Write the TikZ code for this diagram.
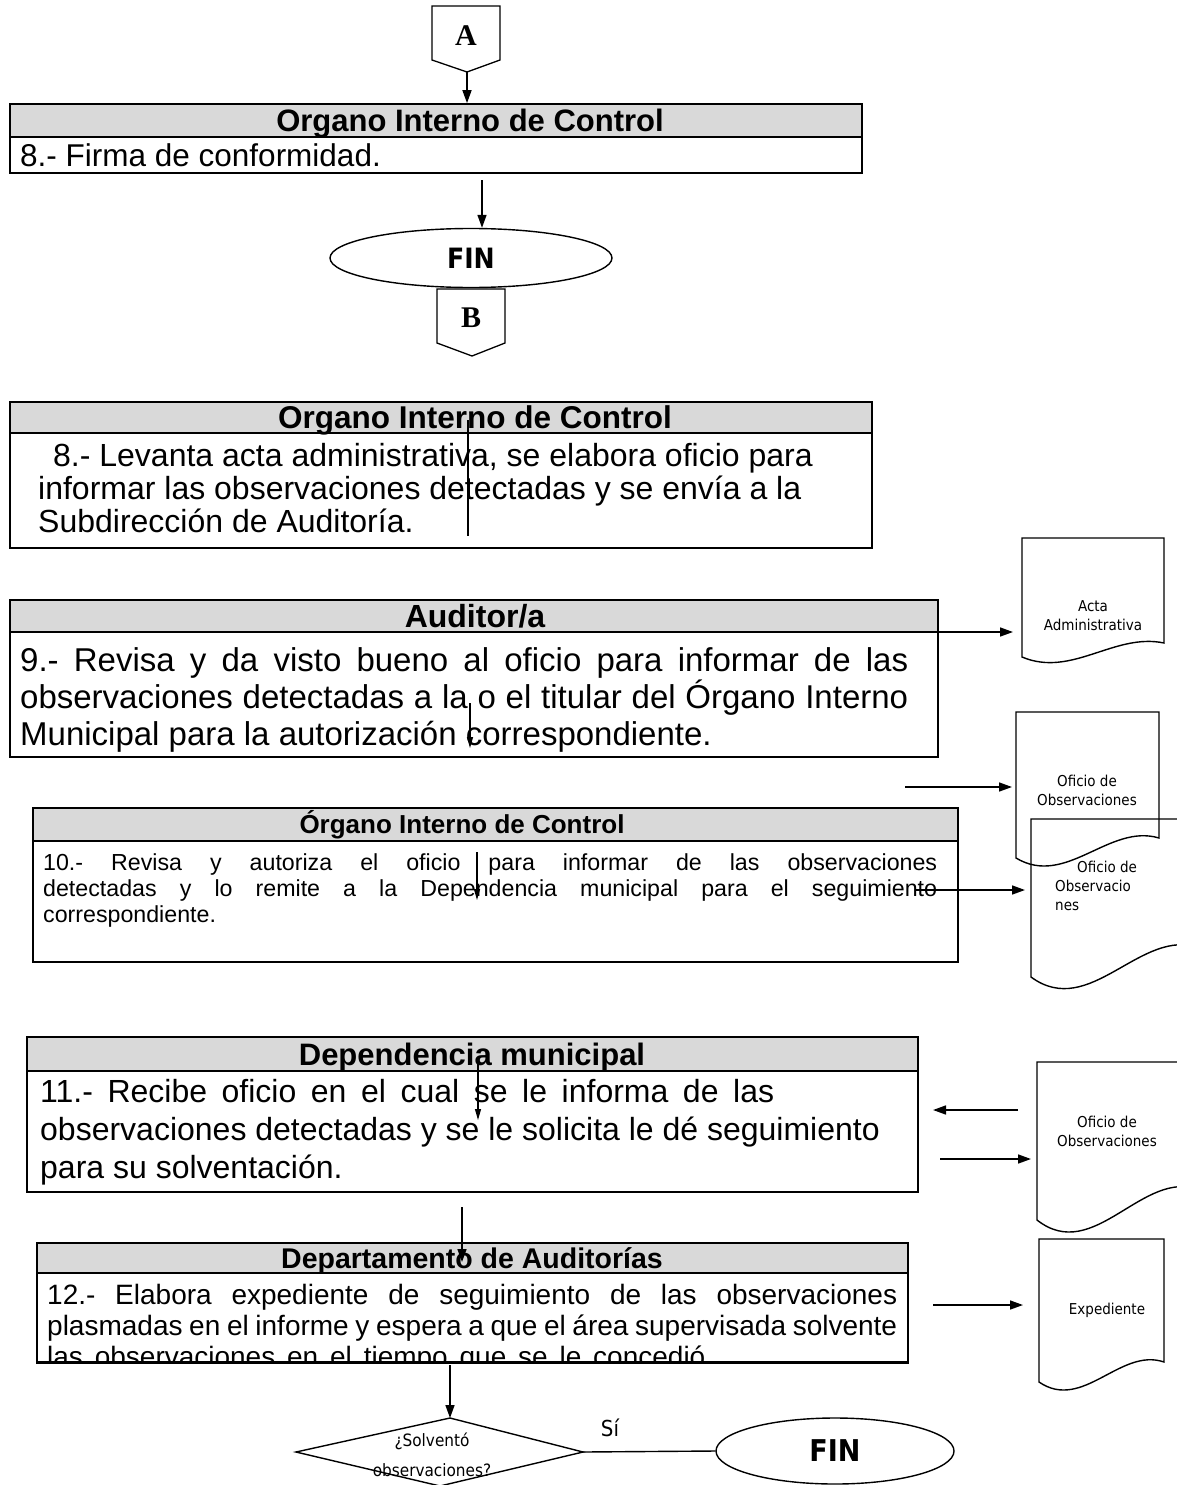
\documentclass[tikz,border=0pt]{standalone}
\usepackage{fontspec}
\setmainfont{Liberation Sans}
\newfontfamily\docfont{DejaVu Sans Condensed}
\newfontfamily\serfont{Liberation Serif}
\usetikzlibrary{arrows.meta,shapes.geometric,fit}
\definecolor{hdrgray}{RGB}{217,217,217}
\newcommand\fsz[2]{\fontsize{#1}{#2}\selectfont}
\newcommand\tstrut{\rule{0pt}{1em}}
\newcommand\jline[2]{\makebox[#1][s]{#2}}
\newcommand\docshape[6]{% name L T R Bl Br
  \pgfmathsetmacro\dsW{#4-#2}%
  \pgfmathsetmacro\dsH{#5-#6}%
  \pgfmathsetmacro\dsXa{#2+0.65*\dsW}%
  \pgfmathsetmacro\dsYa{#6-0.75*\dsH}%
  \pgfmathsetmacro\dsXb{#2+0.35*\dsW}%
  \pgfmathsetmacro\dsYb{#5+1.5*\dsH}%
  \draw[docline] (#2,#5) -- (#2,#3) -- (#4,#3) -- (#4,#6)
     .. controls (\dsXa,\dsYa) and (\dsXb,\dsYb) .. (#2,#5) -- cycle;
  \coordinate (#1) at (#2,#3);
}
\begin{document}
\begin{tikzpicture}[x=1pt,y=-1pt,
  hdrbox/.style={draw, fill=hdrgray, line width=1.7pt, inner sep=0pt},
  bodybox/.style={draw, line width=1.7pt, inner sep=0pt},
  hdrtext/.style={font=\bfseries\fsz{31}{34}, inner sep=0pt, anchor=base},
  bodytext/.style={anchor=north west, inner sep=0pt, align=left},
  arr/.style={line width=1.6pt, -{Triangle[length=13pt,width=9pt]}},
  thinarr/.style={line width=1.1pt, -{Triangle[length=11pt,width=6pt]}},
  thinline/.style={line width=1.1pt},
  docline/.style={line width=1.4pt},
  doctext/.style={font=\docfont\fsz{15}{19}, align=center, inner sep=0pt},
  connline/.style={line width=1.3pt},
  conntext/.style={font=\serfont\bfseries\fsz{30}{32}, inner sep=0pt},
  term/.style={draw, ellipse, line width=1.4pt, inner sep=0pt, font=\docfont\bfseries\fsz{28}{30}},
]
\useasboundingbox (0,0) rectangle (1176,1485);

% ---- connector A
\draw[connline] (432,6) -- (500,6) -- (500,60) -- (467,72) -- (432,60) -- cycle;
\coordinate (Atip) at (467,72);
\node[conntext] (A) at (466,36) {A};

% ---- box 1
\node[hdrbox, fit={(10,104) (862,137)}] (h1) {};
\node[bodybox, fit={(10,137) (862,173)}] (b1) {};
\node[hdrtext] (ht1) at (470,131.5) {Organo Interno de Control};
\node[bodytext, font=\fsz{31.5}{34}] (t1) at (20,134.8) {\tstrut 8.- Firma de conformidad.};
\draw[arr] (Atip) -- (Atip |- h1.north);

% ---- FIN 1
\node[term, minimum width=282pt, minimum height=59pt] (fin1) at (471,258) {FIN};
\coordinate (s1) at (482,180);
\draw[arr] (s1) -- (s1 |- fin1.north);

% ---- connector B
\draw[connline] (437,289) -- (505,289) -- (505,343) -- (472,356) -- (437,343) -- cycle;
\node[conntext] (B) at (471,318) {B};

% ---- box 2
\node[hdrbox, fit={(10,402) (872,433)}] (h2) {};
\node[bodybox, fit={(10,433) (872,548)}] (b2) {};
\node[hdrtext, font=\bfseries\fsz{31.5}{34}] (ht2) at (475,428.5) {Organo Interno de Control};
\node[bodytext, font=\fsz{32}{33}] (t2) at (38,434.5) {\tstrut\hspace*{15pt}8.- Levanta acta administrativa, se elabora oficio para\\informar las observaciones detectadas y se envía a la\\Subdirección de Auditoría.};
\coordinate (l2a) at (468,420);
\coordinate (l2b) at (468,536);
\draw[thinline] (l2a) -- (l2b);

% ---- box 3
\node[hdrbox, fit={(10,600) (938,632)}] (h3) {};
\node[bodybox, fit={(10,632) (938,757)}] (b3) {};
\node[hdrtext, font=\bfseries\fsz{32}{34}] (ht3) at (475,627.5) {Auditor/a};
\node[bodytext, font=\fsz{33}{37}] (t3) at (20,637.9) {\tstrut\jline{888pt}{9.- Revisa y da visto bueno al oficio para informar de las}\\\jline{888pt}{observaciones detectadas a la o el titular del Órgano Interno}\\Municipal para la autorización correspondiente.};
\coordinate (l3a) at (470,703);
\coordinate (l3b) at (470,748);
\draw[thinarr] (l3a) -- (l3b);

% ---- box 4
\node[hdrbox, fit={(33,808) (958,841)}] (h4) {};
\node[bodybox, fit={(33,841) (958,962)}] (b4) {};
\node[hdrtext, font=\bfseries\fsz{26}{28}] (ht4) at (462,833.5) {Órgano Interno de Control};
\node[bodytext, font=\fsz{23.2}{26}] (t4) at (43,847.3) {\tstrut\jline{894pt}{10.- Revisa y autoriza el oficio para informar de las observaciones}\\\jline{894pt}{detectadas y lo remite a la Dependencia municipal para el seguimiento}\\correspondiente.};
\coordinate (l4a) at (477,852);
\coordinate (l4b) at (477,900);
\draw[thinarr] (l4a) -- (l4b);

% ---- box 5
\node[hdrbox, fit={(27,1037) (918,1071)}] (h5) {};
\node[bodybox, fit={(27,1071) (918,1192)}] (b5) {};
\node[hdrtext] (ht5) at (472,1065) {Dependencia municipal};
\node[bodytext, font=\fsz{32}{38}] (t5) at (40,1070.5) {\tstrut\jline{734pt}{11.- Recibe oficio en el cual se le informa de las}\\observaciones detectadas y se le solicita le dé seguimiento\\para su solventación.};
\coordinate (l5a) at (478,1062);
\coordinate (l5b) at (478,1120);
\draw[thinarr] (l5a) -- (l5b);

% ---- box 6
\node[hdrbox, fit={(37,1243) (908,1273)}] (h6) {};
\node[bodybox, fit={(37,1273) (908,1362)}] (b6) {};
\node[hdrtext, font=\bfseries\fsz{28.5}{30}] (ht6) at (472,1268) {Departamento de Auditorías};
\begin{scope}
\clip (37,1273) rectangle (908,1362);
\node[bodytext, font=\fsz{28}{31}] (t6) at (47,1276) {\tstrut\jline{850pt}{12.- Elabora expediente de seguimiento de las observaciones}\\\jline{850pt}{plasmadas en el informe y espera a que el área supervisada solvente}\\\jline{666pt}{las observaciones en el tiempo que se le concedió.}};
\end{scope}
\draw[line width=1.7pt] (b6.south west) -- (b6.south east);

% ---- inter-box arrows
\coordinate (s5) at (462,1207);
\coordinate (e5) at (462,1262);
\draw[arr] (s5) -- (e5);
\coordinate (s6) at (450,1365);
\coordinate (dT) at (450,1418);
\draw[arr] (s6) -- (dT);

% ---- documents
\docshape{d1}{1022}{538}{1164}{657}{643}
\node[doctext] (d1t) at (1093,616) {Acta\\Administrativa};
\docshape{d2}{1016}{712}{1159}{858}{838}
\node[doctext] (d2t) at (1087,790) {Oficio de\\Observaciones};
\docshape{d3}{1031}{819}{1200}{977}{948}
\node[doctext, align=left, anchor=north west] (d3t) at (1055,857.5) {\tstrut\hspace*{22pt}Oficio de\\Observacio\\nes};
\docshape{d4}{1037}{1062}{1200}{1220}{1190}
\node[doctext] (d4t) at (1107,1131) {Oficio de\\Observaciones};
\docshape{d5}{1039}{1239}{1164}{1382}{1362}
\node[doctext] (d5t) at (1107,1310) {Expediente};

% ---- horizontal arrows
\coordinate (a1s) at (907,632);  \coordinate (a1e) at (1013,632);
\draw[arr] (a1s) -- (a1e);
\coordinate (a2s) at (905,787);  \coordinate (a2e) at (1012,787);
\draw[arr] (a2s) -- (a2e);
\coordinate (a3s) at (915,890);  \coordinate (a3e) at (1025,890);
\draw[arr] (a3s) -- (a3e);
\coordinate (a4s) at (1018,1110); \coordinate (a4e) at (933,1110);
\draw[arr] (a4s) -- (a4e);
\coordinate (a5s) at (940,1159); \coordinate (a5e) at (1031,1159);
\draw[arr] (a5s) -- (a5e);
\coordinate (a6s) at (933,1305); \coordinate (a6e) at (1023,1305);
\draw[arr] (a6s) -- (a6e);

% ---- decision and end
\coordinate (dR) at (583,1452);
\coordinate (dB) at (440,1486);
\coordinate (dL) at (296,1452);
\draw[line width=1.4pt] (dT) -- (dR) -- (dB) -- (dL) -- cycle;
\node[font=\docfont\fsz{17}{30}, align=center, inner sep=0pt] (dq) at (432,1455) {¿Solventó\\observaciones?};
\node[term, minimum width=238pt, minimum height=66pt, font=\docfont\bfseries\fsz{30}{32}] (fin2) at (835,1451) {FIN};
\draw[line width=1.4pt] (dR) -- (fin2.west);
\node[font=\docfont\fsz{22}{24}, inner sep=0pt] (si) at (610,1428) {Sí};
\end{tikzpicture}
\end{document}
